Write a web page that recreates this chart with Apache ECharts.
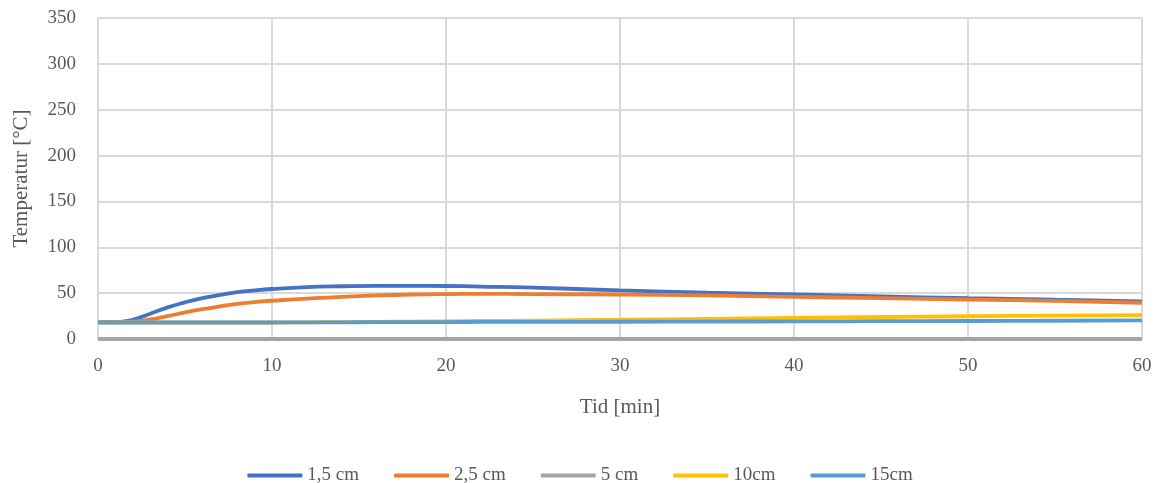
<!DOCTYPE html>
<html><head><meta charset="utf-8">
<script src="https://cdn.jsdelivr.net/npm/echarts@6/dist/echarts.min.js"></script>
<style>html,body{margin:0;padding:0;background:#fff}#c{width:1160px;height:483px}</style>
</head><body><div id="c"></div>
<script>
const times = [0,1,2,3,4,5,6,7,8,9,10,12,14,16,18,20,22,25,30,35,40,45,50,55,60];
const s15 = [18.5,18.5,21,27.5,34.5,40,44.5,48,51,53,54.5,56.5,57.5,58,58,57.8,57.2,56,53,50.5,48.5,46.5,44.5,43,41];
const s25 = [18.5,18.5,19,21.5,25,29,32.5,35.5,38.3,40.2,41.7,44,46,47.5,48.5,49,49.2,49,48.5,47.5,46,44.5,43,41.5,39.5];
const s5 = [0,0,0,0,0,0,0,0,0,0,0,0,0,0,0,0,0,0,0,0,0,0,0,0,0];
const s10 = [18,18,18,18,18,18,18,18,18,18,18,18.2,18.4,18.7,19,19.3,19.6,20.1,21,22,23,24,24.8,25.5,26];
const s15b = [18,18,18,18,18,18,18,18,18,18,18,18.1,18.2,18.3,18.4,18.5,18.6,18.7,18.8,19,19.2,19.4,19.6,19.9,20.2];
const names = ['1,5 cm','2,5 cm','5 cm','10cm','15cm'];
const colors = ['#4472C4','#ED7D31','#A5A5A5','#FFC000','#5B9BD5'];
const xTicks = [0,10,20,30,40,50,60];
const yTicks = [0,50,100,150,200,250,300,350];
const allData = [s15,s25,s5,s10,s15b];
const font = 'Liberation Serif';
const chart = echarts.init(document.getElementById('c'));
chart.setOption({
  animation:false,
  textStyle:{fontFamily:font},
  grid:{left:98,right:18,top:18,bottom:144,containLabel:false},
  xAxis:{type:'value',min:0,max:60,interval:10,
    name:'Tid [min]',nameLocation:'middle',nameGap:58,
    nameTextStyle:{fontFamily:font,fontSize:21,color:'#595959'},
    axisLine:{show:true,lineStyle:{color:'#d9d9d9',width:1}},
    axisTick:{show:false},
    axisLabel:{fontFamily:font,fontSize:19,color:'#595959',margin:18},
    splitLine:{show:true,lineStyle:{color:'#d9d9d9',width:2}}},
  yAxis:{type:'value',min:0,max:350,interval:50,
    name:'Temperatur [°C]',nameLocation:'middle',nameGap:66,nameRotate:90,
    nameTextStyle:{fontFamily:font,fontSize:21,color:'#595959'},
    axisLine:{show:true,lineStyle:{color:'#d9d9d9',width:2}},
    axisTick:{show:false},
    axisLabel:{fontFamily:font,fontSize:19,color:'#595959',margin:22},
    splitLine:{show:true,lineStyle:{color:'#d9d9d9',width:2}}},
  legend:{top:461,left:'center',itemWidth:55,itemHeight:4,itemGap:35,icon:'roundRect',
    textStyle:{fontFamily:font,fontSize:19,color:'#595959'},data:names},
  series: names.map((n,i)=>({
    name:n,type:'line',smooth:0.5,showSymbol:false,symbol:'none',
    color:colors[i],
    lineStyle:{width:3.8,color:colors[i]},
    z: 2+i,
    data: times.map((t,j)=>[t,allData[i][j]])
  }))
});
</script></body></html>
